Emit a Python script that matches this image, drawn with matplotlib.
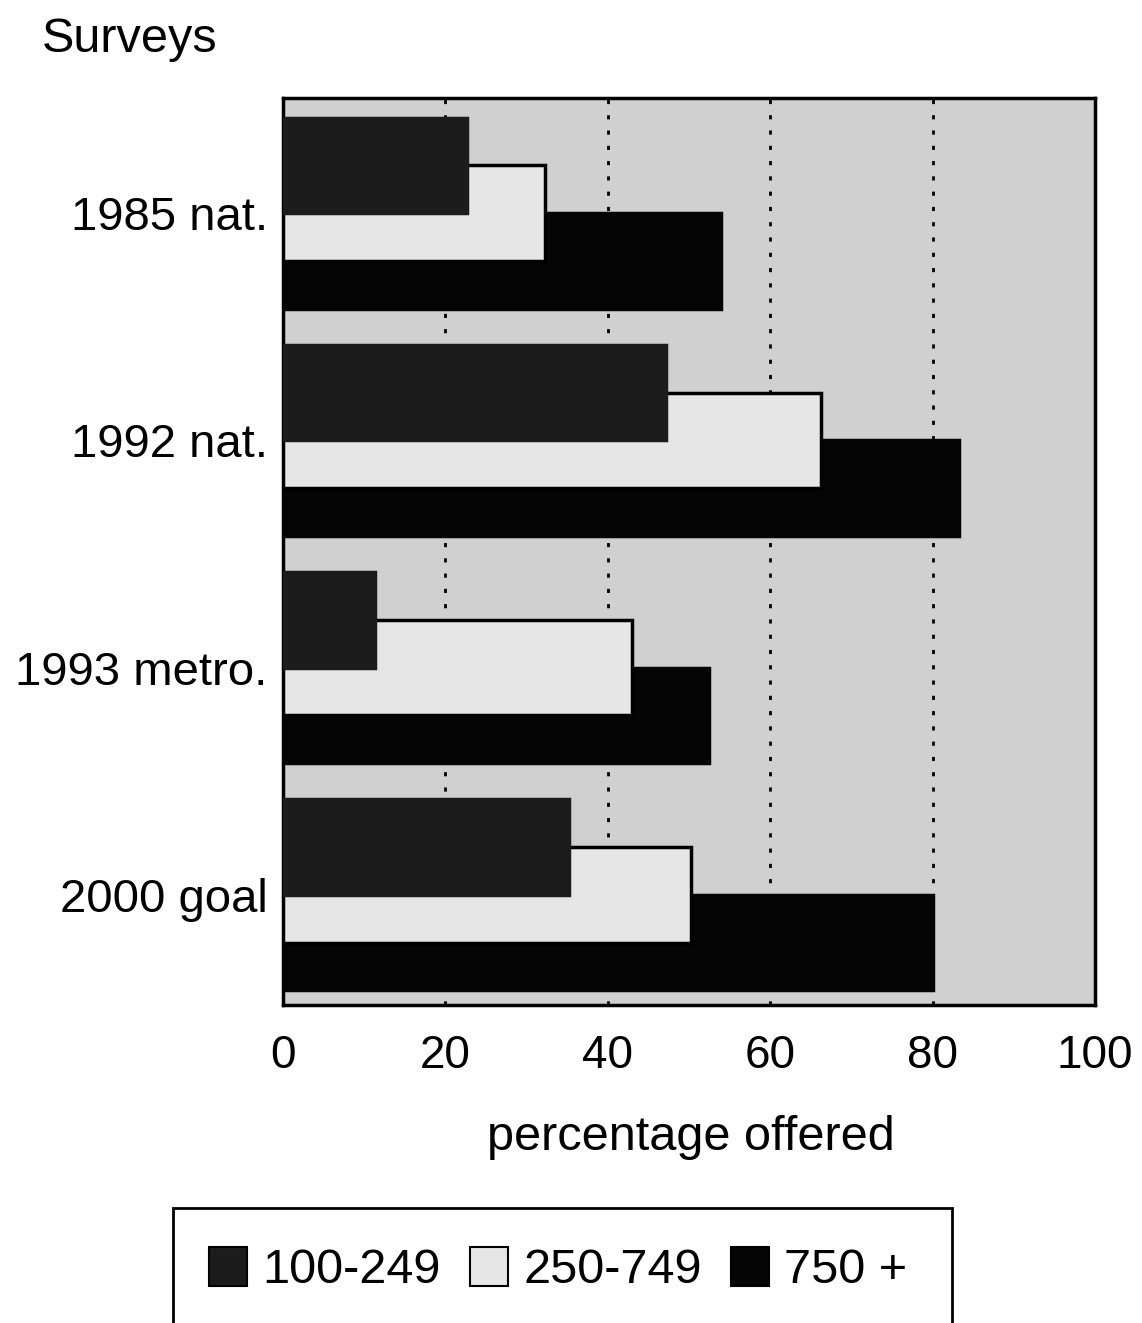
import matplotlib
matplotlib.use("Agg")
import matplotlib.pyplot as plt
from matplotlib.patches import Rectangle, Patch
import numpy as np

plt.rcParams['font.family'] = ['Liberation Sans', 'DejaVu Sans']

categories = ["1985 nat.", "1992 nat.", "1993 metro.", "2000 goal"]
series_labels = ["100-249", "250-749", "750 +"]
values_100_249 = [22.7, 47.2, 11.3, 35.2]
values_250_749 = [32.3, 66.3, 43.0, 50.2]
values_750_plus = [54.0, 83.2, 52.5, 80.0]
xticks = [0, 20, 40, 60, 80, 100]

series = [values_100_249, values_250_749, values_750_plus]
facecolors = ["#1c1c1c", "#e6e6e6", "#050505"]
edgecolors = ["#1c1c1c", "#000000", "#050505"]

fig = plt.figure(figsize=(11.42, 13.23), dpi=100)
ax = fig.add_axes([283/1142, 1 - 1005/1323, (1095-283)/1142, (1005-98)/1323])
ax.set_facecolor("#d0d0d0")

y = np.arange(len(categories))
h = 0.42
offsets = [-0.21, 0.0, 0.21]
for i, (vals, fc, ec, off) in enumerate(zip(series, facecolors, edgecolors, offsets)):
    ax.barh(y + off, vals, height=h, color=fc, edgecolor=ec, linewidth=2.5,
            zorder=5 - i, label=series_labels[i])

for xv in xticks[1:-1]:
    ax.axvline(xv, color="black", linestyle=(0, (1.5, 4)), linewidth=2.0, zorder=1)

ax.set_xlim(0, 100)
ax.set_ylim(3.485, -0.507)
ax.set_yticks(y)
ax.set_yticklabels(categories, fontsize=34)
ax.set_xticks(xticks)
ax.set_xticklabels([str(t) for t in xticks], fontsize=33)
ax.tick_params(axis="both", length=0)
ax.tick_params(axis="y", pad=11)
ax.tick_params(axis="x", pad=21)
for s in ax.spines.values():
    s.set_linewidth(2.5)
    s.set_color("black")

fig.text(691/1142, 1 - 1137/1323, "percentage offered", fontsize=35,
         ha="center", va="center")
fig.text(42/1142, 1 - 40/1323, "Surveys", fontsize=35, ha="left", va="center")

# legend box
fig.patches.append(Rectangle((173/1142, -0.02), (952-173)/1142, (1 - 1208/1323) + 0.02,
                             transform=fig.transFigure, facecolor="white",
                             edgecolor="black", linewidth=2.0, zorder=0))
handles = [Patch(facecolor=fc, edgecolor="black", linewidth=1.5) for fc in facecolors]
fig.legend(handles, series_labels, loc="center", bbox_to_anchor=(558/1142, 1 - 1270/1323),
           ncol=3, frameon=False, fontsize=35, handlelength=0.78, handleheight=0.88,
           handletextpad=0.32, columnspacing=0.6, borderpad=0)

fig.savefig("out.png", dpi=100)
